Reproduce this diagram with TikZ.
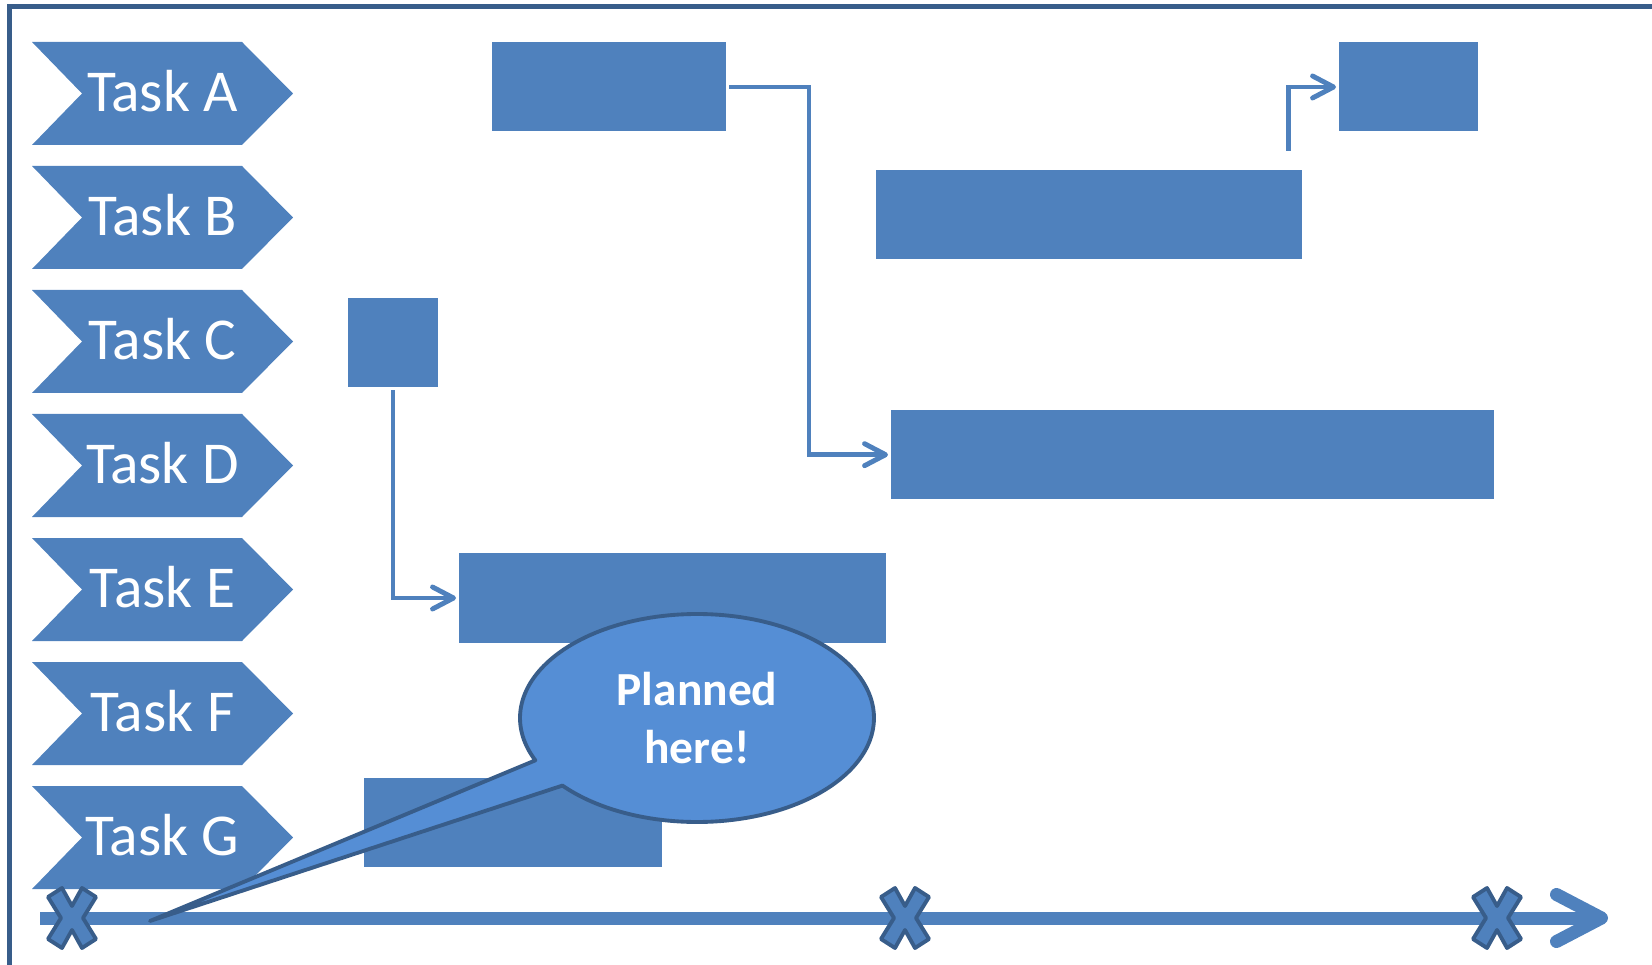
\documentclass[tikz,border=0pt]{standalone}
\usepackage{fontspec}
\setmainfont{Carlito}
\usepackage{tikz}
\usepackage{xcolor}
\usetikzlibrary{calc}
\usetikzlibrary{arrows.meta}
\usetikzlibrary{shapes.callouts}

\definecolor{taskblue}{HTML}{4F81BD}
\definecolor{edgeblue}{HTML}{385D8A}
\definecolor{planblue}{HTML}{558ED5}

\tikzset{
  tasklabel/.style={text=white, inner sep=0pt, font=\fontsize{16.9}{20}\selectfont},
  bar/.style={fill=taskblue, minimum height=0.89cm, inner sep=0pt, outer sep=0pt},
  link/.style={draw=taskblue, line width=1.4pt, shorten <=0.03cm, shorten >=0.03cm,
    -{Straight Barb[length=0.21cm,width=0.22cm,round]}},
  timeline/.style={draw=taskblue, line width=3.7pt, -{Straight Barb[length=0.45cm,width=0.47cm,round]}},
  milestone/.style={fill=taskblue, draw=edgeblue, line width=1.1pt, line join=round},
  planbubble/.style={ellipse callout, fill=planblue, draw=edgeblue, line width=1.1pt,
    line join=round, minimum width=3.54cm, minimum height=2.08cm, inner sep=0pt,
    callout pointer arc=16.5, text=white, align=center,
    font=\fontsize{13.5}{16.5}\selectfont\bfseries}
}

\begin{document}
\begin{tikzpicture}
\useasboundingbox (0,0) rectangle (16.52,9.64);
\draw[edgeblue, line width=1.3pt] (0.093,-0.2) |- (16.8,9.573);

% task chevrons
\foreach \t [count=\i from 0] in {A,B,C,D,E,F,G} {
  \fill[taskblue] (0.32,{9.22-1.24*\i}) -- ++(2.10,0) -- ++(0.51,-0.515) -- ++(-0.51,-0.515)
    -- ++(-2.10,0) -- ++(0.50,0.515) -- cycle;
  \node[tasklabel] (task\t) at (1.625,{8.725-1.24*\i}) {Task \t};
}

% bars
\node[bar, minimum width=2.34cm] (barA) at (6.09,8.77) {};
\node[bar, minimum width=1.39cm] (barAtwo) at (14.085,8.77) {};
\node[bar, minimum width=4.265cm] (barB) at (10.89,7.496) {};
\node[bar, minimum width=0.906cm] (barC) at (3.93,6.21) {};
\node[bar, minimum width=6.03cm] (barD) at (11.925,5.093) {};
\node[bar, minimum width=4.27cm] (barE) at (6.725,3.66) {};
\node[bar, minimum width=2.98cm] (barG) at (5.125,1.42) {};

% dependencies
\coordinate (bendA) at (8.09,8.77);
\draw[link] (barA.east) -- (bendA) |- (barD.west);
\draw[link] (barC.south) |- (barE.west);
\draw[link, shorten <=0.19cm] ([xshift=-0.14cm]barB.north east) |- (barAtwo.west);

% time axis
\coordinate (axisstart) at (0.40,0.46);
\coordinate (axisend) at (16.08,0.46);
\draw[timeline] (axisstart) -- (axisend);

\foreach \x in {0.72,9.05,14.97}
  \filldraw[milestone, shift={(\x,0.46)}] (-0.24,0.21) -- (-0.10,0.30) -- (0,0.12) -- (0.10,0.30)
    -- (0.24,0.21) -- (0.11,0) -- (0.24,-0.21) -- (0.10,-0.30) -- (0,-0.12) -- (-0.10,-0.30)
    -- (-0.24,-0.21) -- (-0.11,0) -- cycle;

% callout
\coordinate (plantip) at (1.50,0.43);
\node[planbubble, callout absolute pointer={(plantip)}] (plan) at (6.97,2.46) {Planned\\here!};
\end{tikzpicture}
\end{document}
